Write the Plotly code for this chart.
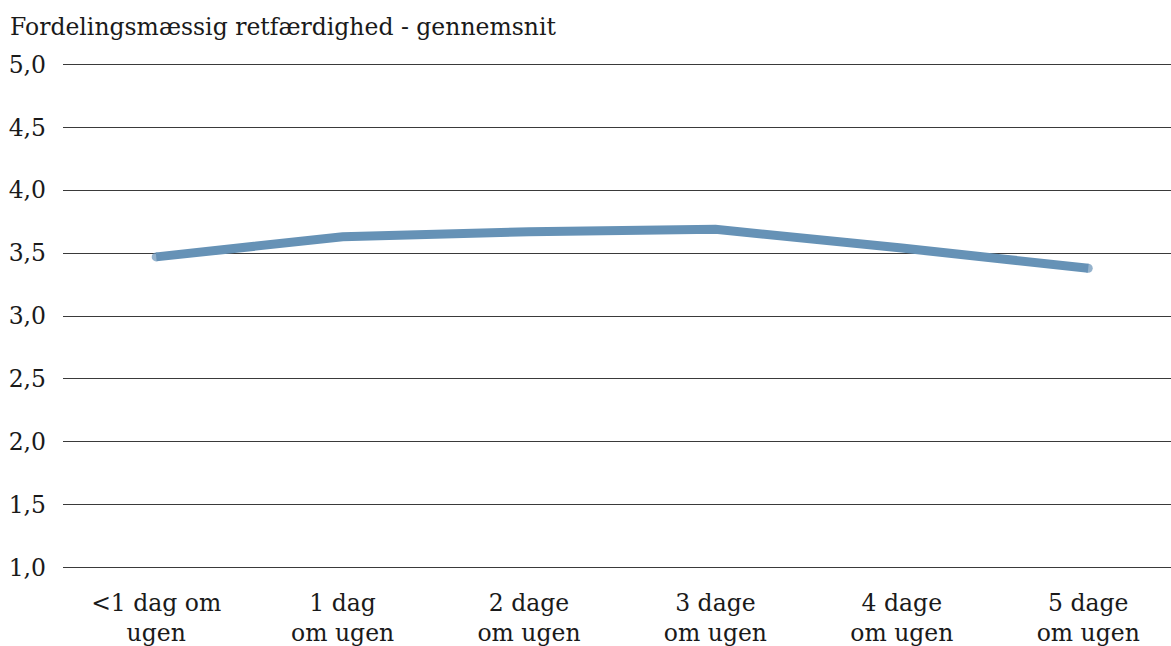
import plotly.graph_objects as go

categories = ["<1 dag om<br>ugen", "1 dag<br>om ugen", "2 dage<br>om ugen",
              "3 dage<br>om ugen", "4 dage<br>om ugen", "5 dage<br>om ugen"]
averages = [3.47, 3.63, 3.67, 3.69, 3.54, 3.38]
y_ticks = [1.0, 1.5, 2.0, 2.5, 3.0, 3.5, 4.0, 4.5, 5.0]
y_tick_labels = ["1,0", "1,5", "2,0", "2,5", "3,0", "3,5", "4,0", "4,5", "5,0"]
title_text = "Fordelingsmæssig retfærdighed - gennemsnit"

FONT = "DejaVu Serif, serif"
FONT_SIZE = 23.5
TEXT_COLOR = "#1a1a1a"
LINE_COLOR = "#6692B6"

x_idx = list(range(len(categories)))
cap_sizes = [9 if i in (0, len(categories) - 1) else 0 for i in x_idx]

fig = go.Figure()
fig.add_trace(go.Scatter(
    x=x_idx, y=averages, mode="lines+markers",
    line=dict(color=LINE_COLOR, width=9),
    marker=dict(color=LINE_COLOR, size=cap_sizes, line=dict(width=0)),
    hoverinfo="skip", showlegend=False,
))

# padding on the value range so the 1,0 and 5,0 gridlines are kept
pad = 0.012
fig.update_layout(
    width=1171, height=646,
    margin=dict(l=63, r=0, t=63, b=77, autoexpand=False),
    paper_bgcolor="white", plot_bgcolor="white",
    font=dict(family=FONT, size=FONT_SIZE, color=TEXT_COLOR),
    showlegend=False,
    xaxis=dict(
        range=[-0.5, 5.444], tickmode="array", tickvals=x_idx, ticktext=categories,
        showgrid=False, zeroline=False, showline=False, ticks="",
        ticklabelstandoff=17, automargin=False,
        tickfont=dict(family=FONT, size=FONT_SIZE, color=TEXT_COLOR),
    ),
    yaxis=dict(
        range=[1.0 - pad, 5.0 + pad], tickmode="array", tickvals=y_ticks,
        ticktext=y_tick_labels, automargin=False,
        showgrid=True, gridcolor="#3a3a3a", gridwidth=1,
        zeroline=False, showline=False, ticks="", ticklabelstandoff=16,
        tickfont=dict(family=FONT, size=FONT_SIZE, color=TEXT_COLOR),
    ),
    annotations=[dict(
        text=title_text, xref="paper", yref="paper", x=-55 / 1108, y=1.0,
        xanchor="left", yanchor="middle", yshift=36, showarrow=False,
        font=dict(family=FONT, size=FONT_SIZE, color=TEXT_COLOR),
    )],
)

fig.write_html("out.html")
